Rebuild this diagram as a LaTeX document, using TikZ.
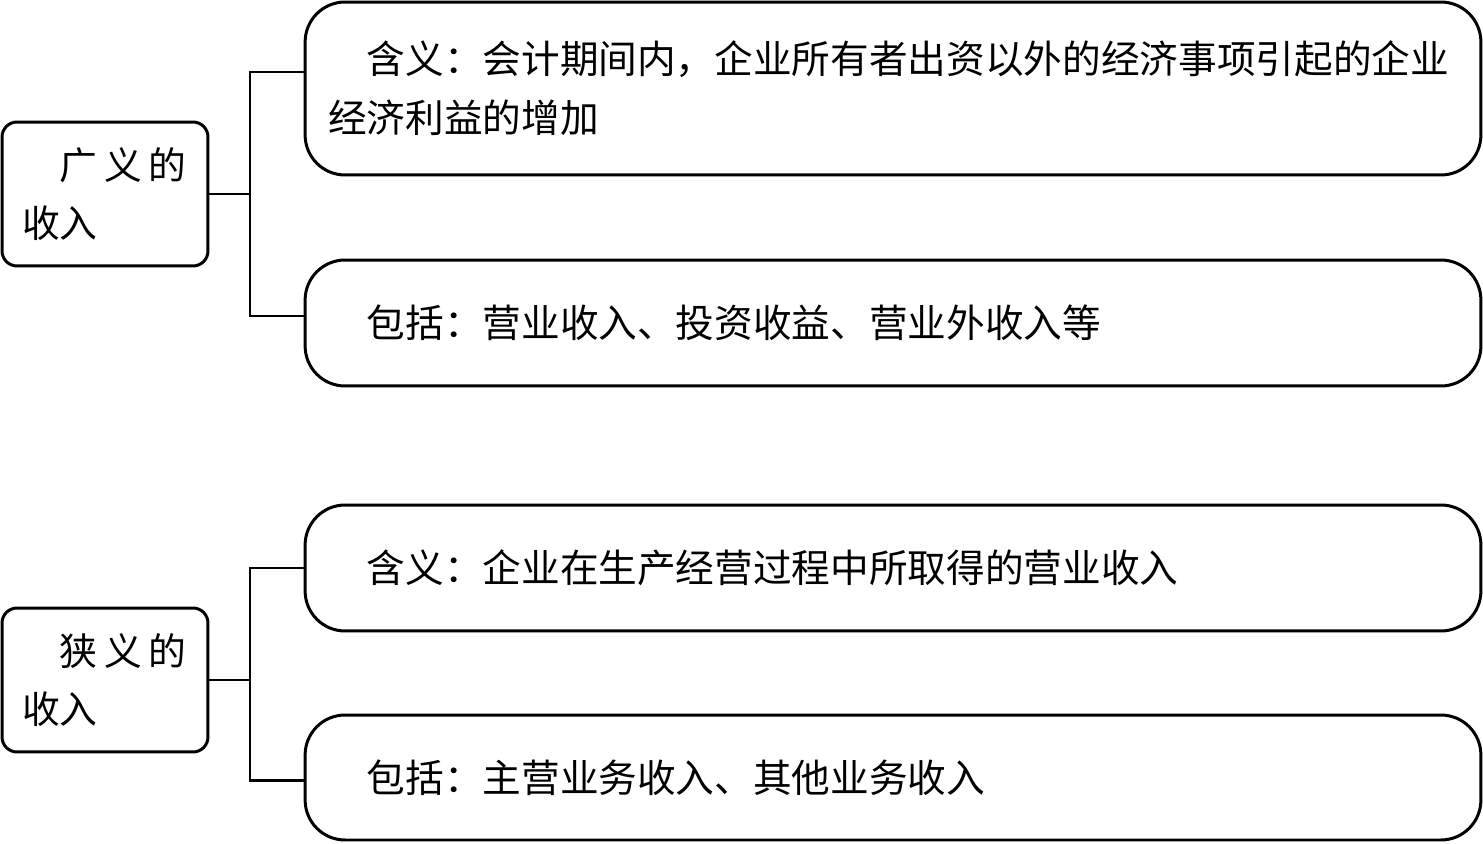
\documentclass[tikz,border=0pt]{standalone}
\usepackage{fontspec}
\newfontfamily\cjk{Noto Sans CJK SC}
\usetikzlibrary{positioning}

\begin{document}
\begin{tikzpicture}[x=0.02cm, y=-0.02cm,
  lb/.style={draw, line width=1.7pt, rounded corners=0.3cm, minimum width=4.12cm, minimum height=2.88cm, text width=3.32cm, align=left, font=\cjk\fontsize{21.5pt}{33pt}\selectfont},
  rb/.style={draw, line width=1.7pt, rounded corners=0.8cm, minimum width=23.52cm, minimum height=2.52cm, text width=22.6cm, align=left, font=\cjk\fontsize{22pt}{33.6pt}\selectfont},
  ln/.style={line width=1.7pt}]
\useasboundingbox (0,0) rectangle (1483,844);
\node[lb] (b1) at (105,194) {\hspace*{1em}广\hspace{0.18em}义\hspace{0.18em}的\\收入};
\node[lb] (b2) at (105,680) {\hspace*{1em}狭\hspace{0.18em}义\hspace{0.18em}的\\收入};
\node[rb, minimum height=3.46cm] (s1) at (893,88.5) {\hspace*{1em}含义：会计期间内，企业所有者出资以外的经济事项引起的企业\\经济利益的增加};
\node[rb] (s2) at (893,323) {\hspace*{1em}包括：营业收入、投资收益、营业外收入等};
\node[rb] (s3) at (893,568) {\hspace*{1em}含义：企业在生产经营过程中所取得的营业收入};
\node[rb, minimum height=2.5cm] (s4) at (893,777.5) {\hspace*{1em}包括：主营业务收入、其他业务收入};
\coordinate (j1) at (250,194);
\coordinate (j2) at (250,680);
\draw[ln] (b1.east) -- (j1); \draw[ln] ([yshift=0.33cm]s1.west) -| (j1) |- ([yshift=0.14cm]s2.west);
\draw[ln] (b2.east) -- (j2); \draw[ln] (s3.west) -| (j2) |- ([yshift=-0.05cm]s4.west);
\end{tikzpicture}
\end{document}
